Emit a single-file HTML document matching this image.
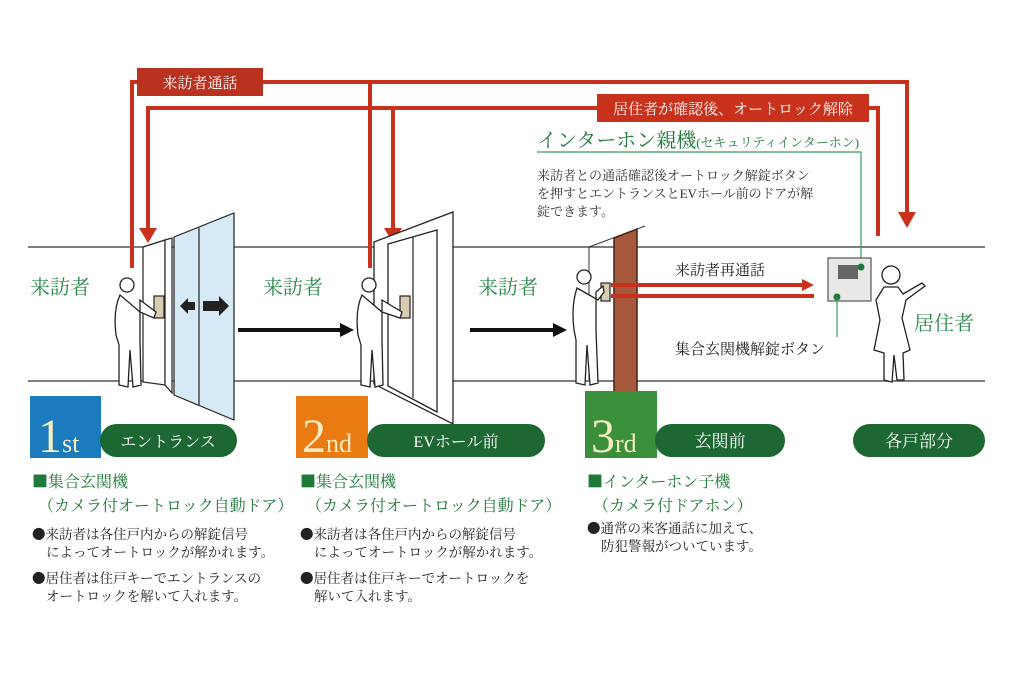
<!DOCTYPE html>
<html><head><meta charset="utf-8"><style>
html,body{margin:0;padding:0;background:#fff;}
svg{display:block;font-family:"Liberation Serif","Noto Serif CJK JP","Noto Serif CJK SC",serif;}
.b{font-family:"Noto Sans CJK JP",sans-serif;}
</style></head><body>
<svg width="1024" height="683" viewBox="0 0 1024 683" xmlns="http://www.w3.org/2000/svg">
<!-- walls -->
<g stroke="#555" stroke-width="1.5">
<line x1="28" y1="247" x2="985" y2="247"/>
<line x1="28" y1="381" x2="985" y2="381"/>
</g>
<!-- red lines -->
<g stroke="#c8321d" stroke-width="4" fill="none">
<polyline points="132,268 132,82 907,82 907,212"/>
<line x1="370" y1="82" x2="370" y2="268"/>
<polyline points="148,230 148,108 878,108 878,236"/>
<line x1="393" y1="108" x2="393" y2="230"/>
</g>
<g fill="#c8321d">
<polygon points="139,228 157,228 148,243"/>
<polygon points="384,228 402,228 393,243"/>
<polygon points="898,212 916,212 907,228"/>
</g>
<rect x="137" y="68" width="126" height="28" fill="#b8321f"/>
<text x="200" y="88" fill="#fff" font-size="15" text-anchor="middle">来訪者通話</text>
<rect x="597" y="94" width="272" height="28" fill="#c8321d"/>
<text x="733" y="114" fill="#fff" font-size="15" text-anchor="middle">居住者が確認後、オートロック解除</text>
<!-- intercom parent -->
<text x="537" y="147" fill="#1f7a3a" font-size="20">インターホン親機<tspan font-size="13">(セキュリティインターホン)</tspan></text>
<polyline points="537,152 861,152 861,270" stroke="#3a9a5a" stroke-width="1.2" fill="none"/>
<g font-size="13" fill="#333">
<text x="537" y="180">来訪者との通話確認後オートロック解錠ボタン</text>
<text x="537" y="198">を押すとエントランスとEVホール前のドアが解</text>
<text x="537" y="216">錠できます。</text>
</g>
<!-- visitor labels -->
<g fill="#2a8a4a" font-size="20">
<text x="30" y="294">来訪者</text>
<text x="263" y="294">来訪者</text>
<text x="478" y="294">来訪者</text>
<text x="914" y="330">居住者</text>
</g>
<!-- door 1 -->
<polygon points="143,247 165,240 165,385 143,382" fill="#fff" stroke="#222" stroke-width="1.2"/>
<polygon points="165,240 172,238 172,393 165,385" fill="#fff" stroke="#222" stroke-width="1.2"/>
<polygon points="174,237 234,213 234,420 174,395" fill="#d6e9f6" stroke="#222" stroke-width="1.2"/>
<line x1="199" y1="228" x2="199" y2="405" stroke="#222" stroke-width="1.2"/>
<polygon points="180,306 188,298 188,302 195,302 195,310 188,310 188,314" fill="#222"/>
<polygon points="229,306 219,296 219,301 203,301 203,311 219,311 219,316" fill="#222"/>
<!-- door 2 -->
<polygon points="374,242 453,212 453,424 374,384" fill="#fff" stroke="#222" stroke-width="1.3"/>
<polygon points="388,244 437,230 437,412 388,386" fill="#fff" stroke="#222" stroke-width="1.3"/>
<line x1="413" y1="237" x2="413" y2="398" stroke="#222" stroke-width="1.2"/>
<!-- door 3 -->
<line x1="589" y1="247" x2="589" y2="380" stroke="#333" stroke-width="1"/>
<line x1="589" y1="247" x2="645" y2="226" stroke="#333" stroke-width="1"/>
<polygon points="614,238 637,229 637,392 614,392" fill="#a6593d" stroke="#4a2212" stroke-width="1.5"/>
<!-- black arrows -->
<g stroke="#111" stroke-width="4"><line x1="238" y1="330" x2="342" y2="330"/><line x1="470" y1="330" x2="555" y2="330"/></g>
<g fill="#111"><polygon points="340,323 354,330 340,337"/><polygon points="553,323 567,330 553,337"/></g>
<!-- keypads -->
<g fill="#d8cdb3" stroke="#222" stroke-width="1.2">
<rect x="154" y="296" width="10" height="22"/><rect x="400" y="296" width="10" height="22"/><rect x="601" y="283" width="9" height="18"/>
</g>
<!-- people -->
<g fill="#fff" stroke="#222" stroke-width="1.3">
<g><circle cx="127" cy="285" r="7"/><path d="M120,295 Q113,310 116,335 L119,345 L119,385 L128,387 L130,350 L133,387 L141,385 L140,340 L140,300 L156,312 L154,318 L140,312 Z"/></g>
<g><circle cx="369" cy="285" r="7"/><path d="M362,295 Q355,310 358,335 L361,345 L361,385 L370,387 L372,350 L375,387 L383,385 L382,340 L382,300 L402,312 L400,318 L382,312 Z"/></g>
<g><circle cx="584" cy="277" r="7"/><path d="M577,288 Q571,305 574,330 L576,340 L576,383 L585,385 L587,345 L590,385 L598,383 L596,330 L596,292 L603,286 L604,292 L598,300 Z"/></g>
<g><circle cx="891" cy="275" r="9"/><path d="M884,287 L876,300 L880,320 L874,350 L884,353 L884,380 L892,382 L894,355 L897,380 L904,380 L903,353 L910,350 L902,318 L906,300 L925,286 L922,283 L903,294 L898,287 Z"/></g>
</g>
<!-- red re-call arrows -->
<g stroke="#c8321d" stroke-width="4"><line x1="611" y1="285" x2="805" y2="285"/><line x1="611" y1="296" x2="814" y2="296"/></g>
<polygon points="802,279 814,285 802,291" fill="#c8321d"/>
<text x="675" y="275" font-size="15" fill="#222">来訪者再通話</text>
<!-- intercom unit -->
<rect x="828" y="258" width="43" height="43" fill="#e8e8e6" stroke="#555" stroke-width="1.2"/>
<rect x="838" y="265" width="20" height="14" fill="#666"/>
<circle cx="861" cy="267" r="3.5" fill="#1e7a3a"/>
<circle cx="837" cy="297" r="3.5" fill="#1e7a3a"/>
<line x1="837" y1="297" x2="837" y2="337" stroke="#3a9a5a" stroke-width="1.2"/>
<text x="675" y="354" font-size="15" fill="#222">集合玄関機解錠ボタン</text>
<!-- badges -->
<rect x="30" y="396" width="71" height="62" fill="#1b7bbd"/>
<text x="38" y="452" font-size="48" fill="#f6edc4">1<tspan font-size="26">st</tspan></text>
<rect x="100" y="424" width="137" height="33" rx="16.5" fill="#1d6733"/>
<text x="168" y="447" font-size="16" fill="#fff" text-anchor="middle">エントランス</text>
<rect x="296" y="396" width="72" height="62" fill="#ea7a12"/>
<text x="302" y="452" font-size="48" fill="#f6edc4">2<tspan font-size="26">nd</tspan></text>
<rect x="367" y="424" width="178" height="33" rx="16.5" fill="#1d6733"/>
<text x="456" y="447" font-size="16" fill="#fff" text-anchor="middle">EVホール前</text>
<rect x="585" y="391" width="72" height="67" fill="#3a8f3a"/>
<text x="591" y="452" font-size="48" fill="#f6edc4">3<tspan font-size="26">rd</tspan></text>
<rect x="655" y="424" width="130" height="33" rx="16.5" fill="#1d6733"/>
<text x="720" y="447" font-size="17" fill="#fff" text-anchor="middle">玄関前</text>
<rect x="853" y="424" width="132" height="33" rx="16.5" fill="#1d6733"/>
<text x="919" y="447" font-size="17" fill="#fff" text-anchor="middle">各戸部分</text>
<!-- descriptions -->
<g fill="#1f7a3a" font-size="16">
<text x="32" y="487"><tspan class="b">■</tspan>集合玄関機</text><text x="38" y="511">（カメラ付オートロック自動ドア）</text>
<text x="300" y="487"><tspan class="b">■</tspan>集合玄関機</text><text x="306" y="511">（カメラ付オートロック自動ドア）</text>
<text x="587" y="487"><tspan class="b">■</tspan>インターホン子機</text><text x="593" y="511">（カメラ付ドアホン）</text>
</g>
<g fill="#222" font-size="13.5">
<text x="32" y="539"><tspan class="b">●</tspan>来訪者は各住戸内からの解錠信号</text><text x="46" y="557">によってオートロックが解かれます。</text>
<text x="32" y="583"><tspan class="b">●</tspan>居住者は住戸キーでエントランスの</text><text x="46" y="601">オートロックを解いて入れます。</text>
<text x="300" y="539"><tspan class="b">●</tspan>来訪者は各住戸内からの解錠信号</text><text x="314" y="557">によってオートロックが解かれます。</text>
<text x="300" y="583"><tspan class="b">●</tspan>居住者は住戸キーでオートロックを</text><text x="314" y="601">解いて入れます。</text>
<text x="587" y="533"><tspan class="b">●</tspan>通常の来客通話に加えて、</text><text x="601" y="551">防犯警報がついています。</text>
</g>
</svg>
</body></html>
